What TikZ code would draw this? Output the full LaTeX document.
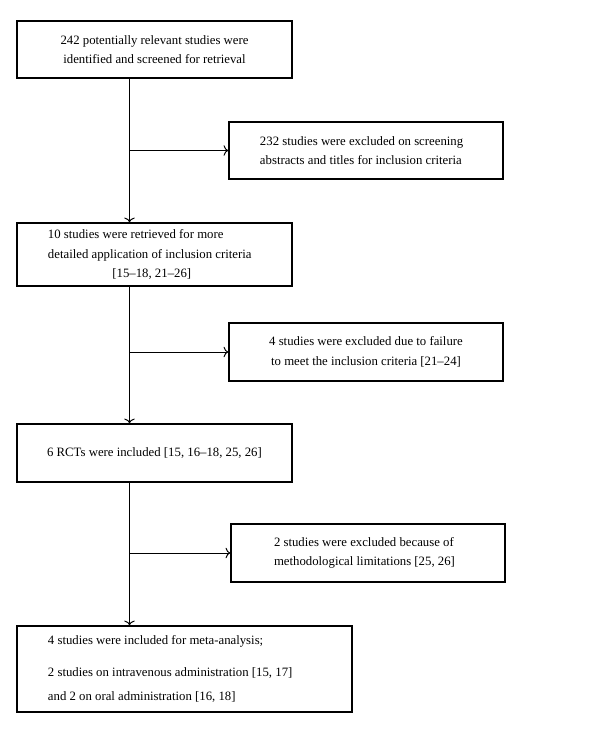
\documentclass[tikz,border=0pt]{standalone}
\usepackage{fontspec}
\setmainfont{Liberation Serif}
\usetikzlibrary{arrows.meta}
\begin{document}
\begin{tikzpicture}[x=0.03cm,y=-0.03cm,
  box/.style={draw,line width=1.3pt,shape=rectangle,font=\fontsize{10.9}{16.5}\selectfont},
  link/.style={line width=0.8pt,-{To[length=4pt,width=9pt]}}]
\useasboundingbox (0,0) rectangle (600,733);
\node[box,minimum width=8.25cm,minimum height=1.71cm,align=center](N1) at (154.5,49.5){242 potentially relevant studies were\\identified and screened for retrieval};
\node[box,text width=6.36cm,inner xsep=0.93cm,minimum height=1.71cm,align=flush left](X1) at (366,150.5){232 studies were excluded on screening\\abstracts and titles for inclusion criteria};
\node[box,text width=6.39cm,inner xsep=0.93cm,minimum height=1.89cm,align=flush left](N2) at (154.5,254.5){10 studies were retrieved for more\\detailed application of inclusion criteria\\\hspace*{55pt}[15--18, 21--26]};
\node[box,minimum width=8.22cm,minimum height=1.74cm,align=center](X2) at (366,352){4 studies were excluded due to failure\\to meet the inclusion criteria [21--24]};
\node[box,minimum width=8.25cm,minimum height=1.74cm,align=center](N3) at (154.5,453){6 RCTs were included [15, 16--18, 25, 26]};
\node[box,text width=5.64cm,inner xsep=1.29cm,minimum height=1.74cm,align=flush left](X3) at (368,553){2 studies were excluded because of\\methodological limitations [25, 26]};
\node[box,text width=8.19cm,inner xsep=0.93cm,minimum height=2.58cm,align=flush left](N4) at (184.5,669){4 studies were included for meta-analysis;\\[10pt]2 studies on intravenous administration [15, 17]\\[4pt]and 2 on oral administration [16, 18]};
% junctions on the main line
\coordinate (J1) at (129.5,150.5);
\coordinate (J2) at (129.5,352);
\coordinate (J3) at (129.5,553);
\draw[link] (N1.south -| J1) -- (N2.north -| J1);
\draw[link] (J1) -- (X1.west);
\draw[link] (N2.south -| J2) -- (N3.north -| J2);
\draw[link] (J2) -- (X2.west);
\draw[link] (N3.south -| J3) -- (N4.north -| J3);
\draw[link] (J3) -- (X3.west);
\end{tikzpicture}
\end{document}
